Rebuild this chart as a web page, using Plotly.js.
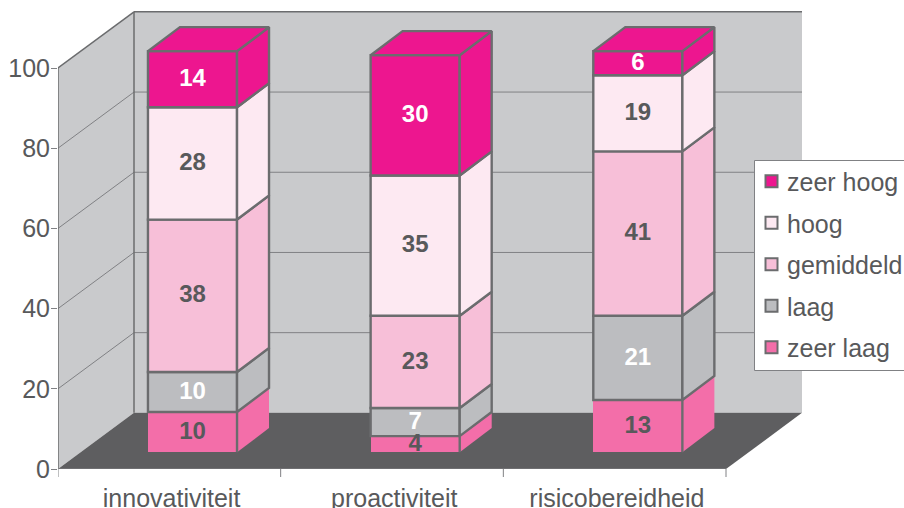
<!DOCTYPE html>
<html>
<head>
<meta charset="utf-8">
<script src="https://cdn.plot.ly/plotly-3.0.1.min.js"></script>
<style>html,body{margin:0;padding:0;background:#fff;overflow:hidden}</style>
</head>
<body>
<div id="chart" style="width:904px;height:508px"></div>
<script>
// Chart data: share of respondents per level, for each dimension
const categories = ['innovativiteit', 'proactiviteit', 'risicobereidheid'];
const levels = ['zeer laag', 'laag', 'gemiddeld', 'hoog', 'zeer hoog'];
const zeerLaag = [10, 4, 13];
const laag = [10, 7, 21];
const gemiddeld = [38, 23, 41];
const hoog = [28, 35, 19];
const zeerHoog = [14, 30, 6];
const yTicks = [0, 20, 40, 60, 80, 100];

const seriesValues = [zeerLaag, laag, gemiddeld, hoog, zeerHoog];
const fills = ['#f36ea9', '#bcbdc0', '#f7bfd8', '#fde9f2', '#ed168f'];
const labelColors = ['#58595b', '#ffffff', '#58595b', '#58595b', '#ffffff'];

const INK = '#58595b', EDGE = '#6b6c6e', WALL = '#c9cacc', FLOOR = '#5e5e60', GRID = '#808184';
const BOX_LINE = 2.4;

// Perspective offsets, in axis units
const roomDx = 0.3413, roomDy = 14;     // depth of the room
const boxDx = 0.1437, boxDy = 6;        // depth of a column
const slotX = 0.604, slotY = 4.2;       // where a column's front face stands
const barWidth = 0.4;
const labelNudge = -0.15;               // optical centring of the value labels
const nCat = categories.length;

const poly = pts => 'M' + pts.map(p => p[0] + ',' + p[1]).join('L') + 'Z';
const seg = (a, b, color, width) => ({
  type: 'line', layer: 'below', xref: 'x', yref: 'y',
  x0: a[0], y0: a[1], x1: b[0], y1: b[1], line: {color, width}
});
const area = (pts, color) => ({
  type: 'path', layer: 'below', xref: 'x', yref: 'y',
  path: poly(pts), fillcolor: color, line: {width: 0}
});

const xEnd = nCat + roomDx, topBack = 100 + roomDy;
const shapes = [
  area([[roomDx, roomDy], [xEnd, roomDy], [xEnd, topBack], [roomDx, topBack]], WALL),
  area([[0, 0], [roomDx, roomDy], [roomDx, topBack], [0, 100]], WALL),
  area([[0, 0], [nCat, 0], [xEnd, roomDy], [roomDx, roomDy]], FLOOR)
];
yTicks.filter(v => v > 0 && v < 100).forEach(v => {
  shapes.push(seg([0, v], [roomDx, v + roomDy], GRID, 1));
  shapes.push(seg([roomDx, v + roomDy], [xEnd, v + roomDy], GRID, 1));
});
shapes.push(seg([0, 100], [roomDx, topBack], EDGE, 1.5));
shapes.push(seg([roomDx, topBack], [xEnd, topBack], EDGE, 1.5));
shapes.push(seg([roomDx, roomDy], [roomDx, topBack], EDGE, 1.5));

// Tick marks between the categories, below the floor edge
for (let i = 0; i <= nCat; i++) {
  shapes.push({type: 'line', layer: 'below', xref: 'x', yref: 'paper',
    x0: i, x1: i, y0: 0, y1: -0.0175, line: {color: GRID, width: 1}});
}

// Legend frame, running off the right side of the page
const plotLeft = 58, plotW = 745, plotTop = 11, plotH = 458;
const paperX = px => (px - plotLeft) / plotW;
const paperY = py => 1 - (py - plotTop) / plotH;
shapes.push({type: 'rect', layer: 'above', xref: 'paper', yref: 'paper',
  x0: paperX(754.5), x1: paperX(915), y0: paperY(370.5), y1: paperY(160.5),
  fillcolor: '#ffffff', line: {color: '#808184', width: 1}});

const xs = categories.map((c, i) => i + slotX);
const traces = [];
const boxFaces = [];
const texts = [];
const running = categories.map(() => slotY);

seriesValues.forEach((vals, s) => {
  const bases = running.slice();
  traces.push({
    type: 'bar', name: levels[s], x: xs, y: vals, base: bases, width: barWidth,
    legendgroup: 'g' + s, legendrank: seriesValues.length - s,
    marker: {color: fills[s], line: {color: EDGE, width: s === 0 ? 0 : BOX_LINE}},
    hoverinfo: 'skip'
  });
  vals.forEach((v, i) => {
    const xr = xs[i] + barWidth / 2, b = bases[i], t = b + v;
    const right = [[xr, b], [xr + boxDx, b + boxDy], [xr + boxDx, t + boxDy], [xr, t], [xr, b]];
    boxFaces.push({
      type: 'scatter', mode: s === 0 ? 'none' : 'lines', showlegend: false, hoverinfo: 'skip',
      x: right.map(p => p[0]), y: right.map(p => p[1]), fill: 'toself', fillcolor: fills[s],
      line: {color: EDGE, width: BOX_LINE}
    });
    if (s === 0) {
      boxFaces.push({
        type: 'scatter', mode: 'lines', showlegend: false, hoverinfo: 'skip',
        x: [xr, xr], y: [b, t], line: {color: EDGE, width: BOX_LINE}
      });
    }
    if (s === seriesValues.length - 1) {
      const xl = xs[i] - barWidth / 2;
      const top = [[xl, t], [xr, t], [xr + boxDx, t + boxDy], [xl + boxDx, t + boxDy], [xl, t]];
      boxFaces.push({
        type: 'scatter', mode: 'lines', showlegend: false, hoverinfo: 'skip',
        x: top.map(p => p[0]), y: top.map(p => p[1]), fill: 'toself', fillcolor: fills[s],
        line: {color: EDGE, width: BOX_LINE}
      });
    }
    running[i] = t;
  });
  texts.push({
    type: 'scatter', mode: 'text', showlegend: false, hoverinfo: 'skip', cliponaxis: false,
    x: xs, y: vals.map((v, i) => bases[i] + v / 2 + labelNudge), text: vals.map(String),
    textposition: 'middle center',
    textfont: {family: 'Liberation Sans, Arial, sans-serif', size: 24, color: labelColors[s], weight: 700}
  });
});

// Front edges of the room that sit on the axis boundary
const frontEdges = [
  {type: 'scatter', mode: 'lines', showlegend: false, hoverinfo: 'skip', cliponaxis: false,
   x: [0, 0], y: [0, 100], line: {color: EDGE, width: 1.5}},
  {type: 'scatter', mode: 'lines', showlegend: false, hoverinfo: 'skip', cliponaxis: false,
   x: [0, nCat], y: [0, 0], line: {color: GRID, width: 1}}
];

const layout = {
  width: 904, height: 508,
  margin: {l: plotLeft, r: 904 - plotLeft - plotW, t: plotTop, b: 508 - plotTop - plotH, autoexpand: false},
  paper_bgcolor: '#ffffff', plot_bgcolor: 'rgba(0,0,0,0)',
  barmode: 'overlay', bargap: 0,
  font: {family: 'Liberation Sans, Arial, sans-serif', size: 25, color: INK},
  xaxis: {
    type: 'linear', range: [0, plotW / 222.67], showgrid: false, zeroline: false, showline: false,
    tickmode: 'array', tickvals: categories.map((c, i) => i + 0.51), ticktext: categories,
    ticks: 'outside', ticklen: 7, tickcolor: 'rgba(0,0,0,0)', tickangle: 0
  },
  yaxis: {
    range: [0, plotH / 4.01], showgrid: false, zeroline: false, showline: false,
    tickmode: 'array', tickvals: yTicks, ticks: 'outside', ticklen: 6, tickwidth: 1, tickcolor: GRID,
    ticklabelstandoff: -4
  },
  shapes,
  showlegend: true,
  legend: {
    x: paperX(747), xanchor: 'left', y: paperY(158.5), yanchor: 'top',
    bgcolor: 'rgba(0,0,0,0)', borderwidth: 0,
    traceorder: 'grouped', itemsizing: 'trace', tracegroupgap: 6,
    font: {family: 'Liberation Sans, Arial, sans-serif', size: 25, color: INK}
  }
};

const gd = document.getElementById('chart');
Plotly.newPlot(gd, traces.concat(boxFaces, frontEdges, texts), layout, {displayModeBar: false, staticPlot: true})
  .then(() => {
    // Legend swatches sit close to their text and all carry an outline
    gd.querySelectorAll('.legend .legendpoints path').forEach(p => {
      p.setAttribute('transform', 'translate(24.5,0)');
      p.style.stroke = EDGE;
      p.style.strokeWidth = '2px';
    });
  });
</script>
</body>
</html>
